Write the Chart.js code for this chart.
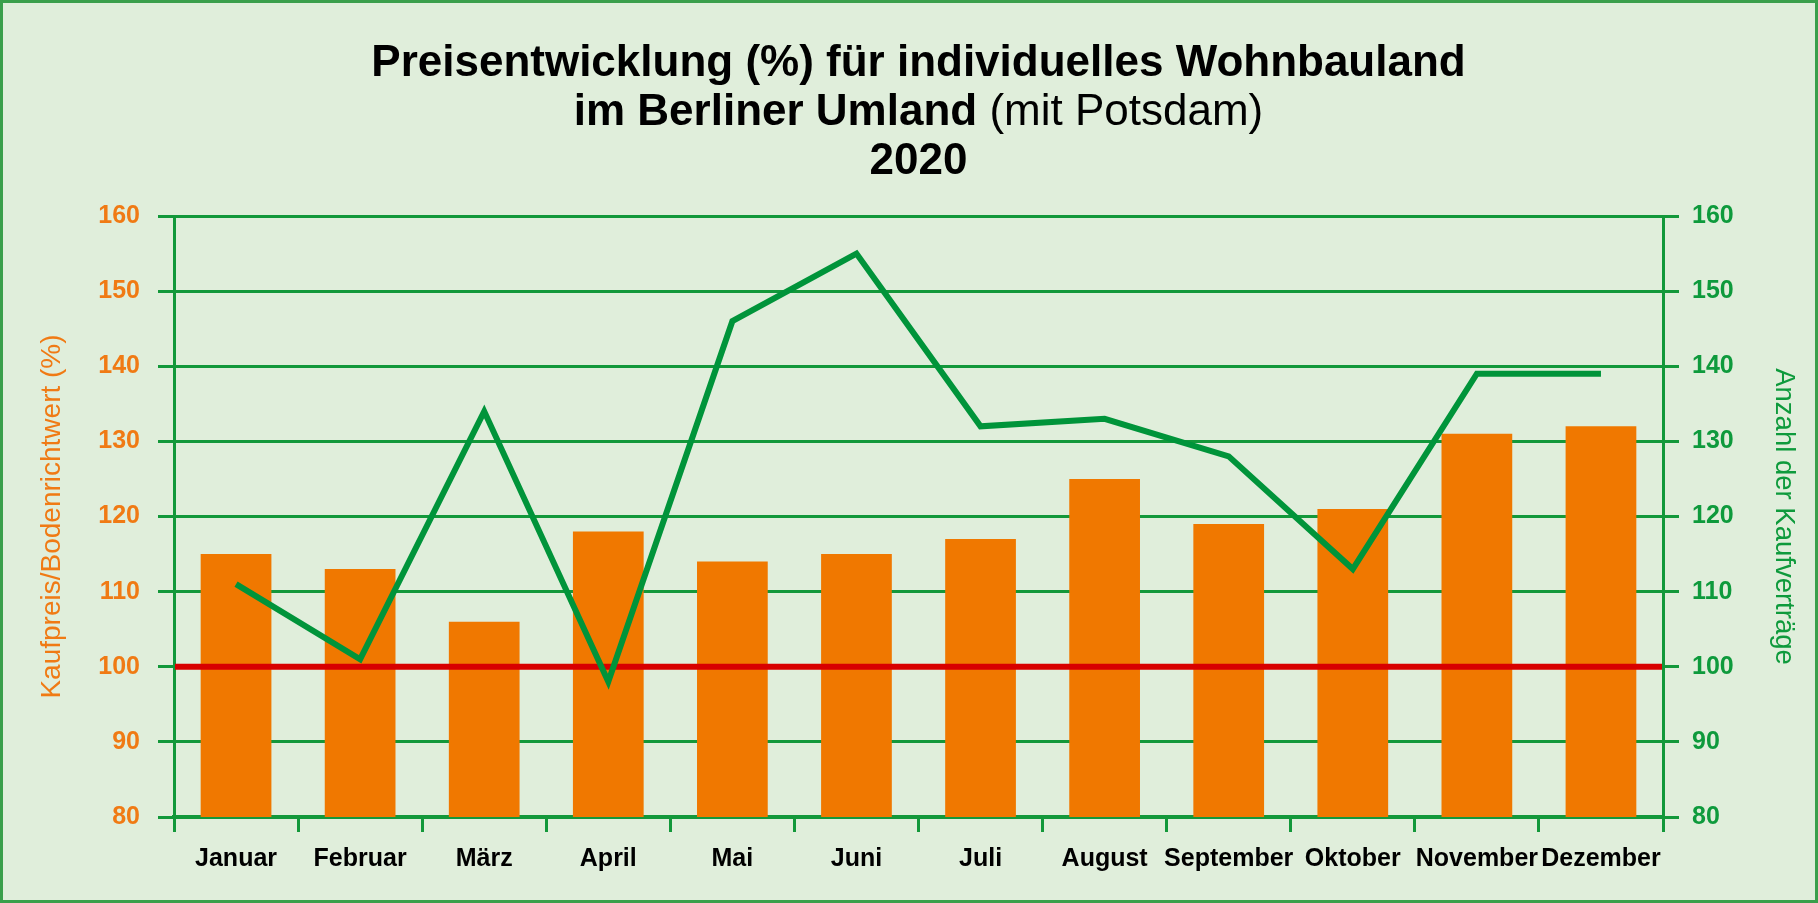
<!DOCTYPE html>
<html>
<head>
<meta charset="utf-8">
<script src="https://cdn.jsdelivr.net/npm/chart.js@4.4.1/dist/chart.umd.min.js"></script>
<style>
  html, body { margin: 0; padding: 0; background: #E0EEDB; }
  #wrap { position: relative; width: 1818px; height: 903px; background: #E0EEDB; overflow: hidden; }
  #c { position: absolute; left: 0; top: 0; }
  #title { position: absolute; left: 174px; width: 1489px; top: 36px; text-align: center;
           font-family: 'Liberation Sans', Arial, sans-serif; font-size: 44px; line-height: 49px; color: #000; font-weight: bold; }
  #title .n { font-weight: normal; }
  #frame { position: absolute; left: 0; top: 0; width: 1812px; height: 897px; border: 3px solid #3A9F4B; pointer-events: none; }
</style>
</head>
<body>
<div id="wrap">
  <canvas id="c" width="1818" height="903"></canvas>
  <div id="title">Preisentwicklung (%) für individuelles Wohnbauland<br>im Berliner Umland <span class="n">(mit Potsdam)</span><br>2020</div>
  <div id="frame"></div>
</div>
<script>
const months = ['Januar', 'Februar', 'März', 'April', 'Mai', 'Juni', 'Juli', 'August', 'September', 'Oktober', 'November', 'Dezember'];
const priceRatio = [115, 113, 106, 118, 114, 115, 117, 125, 119, 121, 131, 132];
const contractCount = [111, 101, 134, 98, 146, 155, 132, 133, 128, 113, 139, 139];
const referenceValue = 100;
const axisMin = 80;
const axisMax = 160;
const axisStep = 10;
const leftAxisTitle = 'Kaufpreis/Bodenrichtwert (%)';
const rightAxisTitle = 'Anzahl der Kaufverträge';

const GREEN = '#13983A';
const ORANGE = '#F07800';
const FONT = "'Liberation Sans', Arial, sans-serif";

const refLinePlugin = {
  id: 'refLine',
  beforeDatasetDraw(chart, args) {
    if (args.index !== 1) return;
    const { ctx, chartArea } = chart;
    const y = chart.scales.y.getPixelForValue(referenceValue);
    ctx.save();
    ctx.strokeStyle = '#D80000';
    ctx.lineWidth = 6;
    ctx.beginPath();
    ctx.moveTo(chartArea.left + 1, y);
    ctx.lineTo(chartArea.right - 1, y);
    ctx.stroke();
    ctx.restore();
  }
};

new Chart(document.getElementById('c'), {
  type: 'bar',
  data: {
    labels: months,
    datasets: [
      {
        type: 'bar',
        data: priceRatio,
        yAxisID: 'y',
        backgroundColor: ORANGE,
        borderWidth: 0,
        categoryPercentage: 1,
        barPercentage: 0.57,
        order: 2
      },
      {
        type: 'line',
        data: contractCount,
        yAxisID: 'y1',
        borderColor: '#00943A',
        borderWidth: 6,
        pointRadius: 0,
        tension: 0,
        fill: false,
        order: 1
      }
    ]
  },
  options: {
    responsive: false,
    devicePixelRatio: 1,
    animation: false,
    layout: { padding: { top: 216, left: 0, right: 0, bottom: 0 } },
    plugins: { legend: { display: false }, tooltip: { enabled: false }, title: { display: false } },
    scales: {
      x: {
        offset: true,
        grid: { display: true, drawOnChartArea: false, drawTicks: true, tickLength: 15, offset: true, color: GREEN, lineWidth: 3 },
        border: { display: true, color: GREEN, width: 4 },
        ticks: { color: '#000', font: { family: FONT, size: 25, weight: 'bold' }, maxRotation: 0, minRotation: 0, autoSkip: false, padding: 12 },
        afterFit(scale) { scale.height = 86; }
      },
      y: {
        position: 'left',
        min: axisMin, max: axisMax,
        ticks: { stepSize: axisStep, color: '#F07A14', font: { family: FONT, size: 25, weight: 'bold' }, padding: 18 },
        grid: { color: GREEN, lineWidth: 3, tickLength: 16, drawTicks: true },
        border: { display: true, color: GREEN, width: 3 },
        title: { display: true, text: leftAxisTitle, color: '#F07A14', font: { family: FONT, size: 28, weight: 'normal' }, padding: { top: 35, bottom: 0 } },
        afterFit(scale) { scale.width = 174; }
      },
      y1: {
        position: 'right',
        min: axisMin, max: axisMax,
        ticks: { stepSize: axisStep, color: '#0E9A3C', font: { family: FONT, size: 25, weight: 'bold' }, padding: 13 },
        grid: { drawOnChartArea: false, color: GREEN, lineWidth: 3, tickLength: 16, drawTicks: true },
        border: { display: true, color: GREEN, width: 3 },
        title: { display: true, text: rightAxisTitle, color: '#0E9A3C', font: { family: FONT, size: 27.5, weight: 'normal' }, padding: { top: 18, bottom: 0 } },
        afterFit(scale) { scale.width = 155; }
      }
    }
  },
  plugins: [refLinePlugin]
});
</script>
</body>
</html>
